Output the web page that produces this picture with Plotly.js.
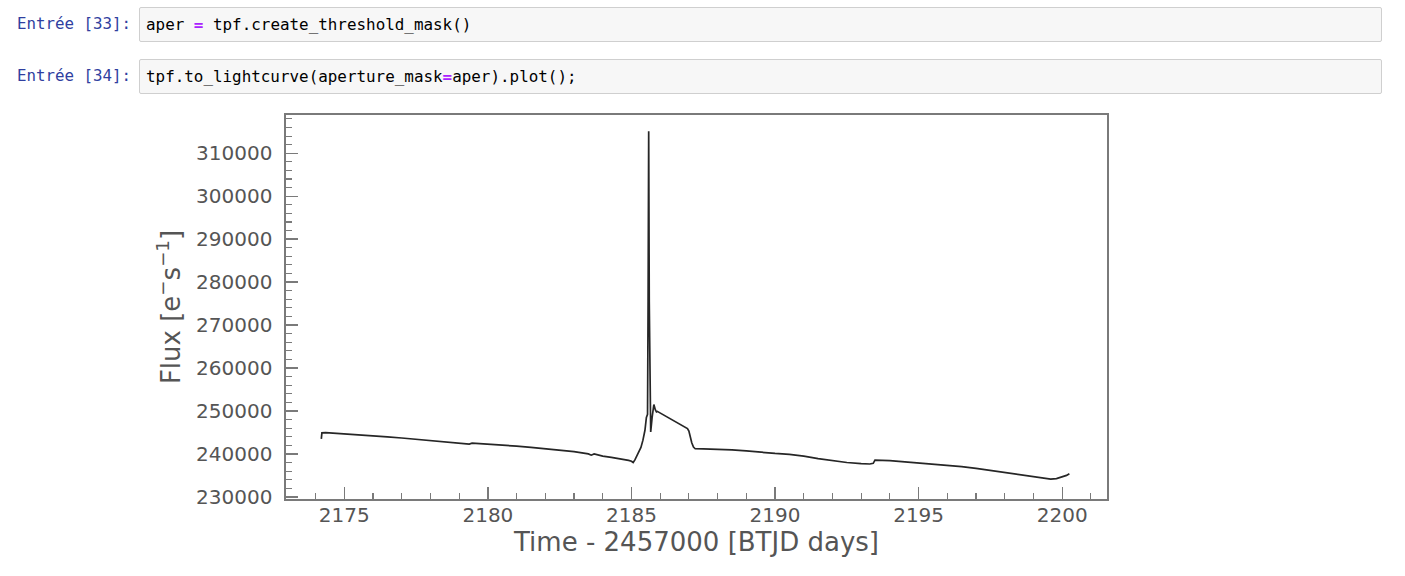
<!DOCTYPE html>
<html>
<head>
<meta charset="utf-8">
<script src="https://cdn.plot.ly/plotly-3.0.1.min.js"></script>
<style>
  html, body { margin:0; padding:0; background:#fff; width:1405px; height:576px; overflow:hidden; }
  #plot { position:absolute; left:0; top:0; width:1405px; height:576px; }
  .prompt { position:absolute; left:17px; font-family:"DejaVu Sans Mono", monospace; font-size:15.8px; color:#303F9F; line-height:36px; height:36px; z-index:5; }
  .cell { position:absolute; left:139px; width:1243px; height:35px; background:#f7f7f7; border:1px solid #cfcfcf; border-radius:2px; box-sizing:border-box; font-family:"DejaVu Sans Mono", monospace; font-size:15.9px; color:#000; line-height:34px; padding-left:6px; z-index:5; white-space:pre; }
  .op { color:#AA22FF; font-weight:bold; }
</style>
</head>
<body>
<div id="plot"></div>
<div class="prompt" style="top:6px;">Entrée [33]:</div>
<div class="cell" style="top:7px;">aper <span class="op">=</span> tpf.create_threshold_mask()</div>
<div class="prompt" style="top:58px;">Entrée [34]:</div>
<div class="cell" style="top:59px;">tpf.to_lightcurve(aperture_mask<span class="op">=</span>aper).plot();</div>
<script>
// Time values (BTJD days)
var time = [
  2174.20, 2174.22, 2174.35, 2174.60, 2175.00, 2175.50, 2176.00, 2176.50, 2177.00, 2177.50,
  2178.00, 2178.50, 2179.00, 2179.35, 2179.45, 2180.00, 2180.50, 2181.00, 2181.50, 2182.00,
  2182.50, 2183.00, 2183.50, 2183.60, 2183.70, 2184.00, 2184.30, 2184.50, 2184.70, 2184.90,
  2185.00, 2185.06, 2185.12, 2185.20, 2185.28, 2185.33, 2185.40, 2185.47, 2185.52, 2185.56,
  2185.58, 2185.60, 2185.62, 2185.64, 2185.67, 2185.72, 2185.78, 2185.83, 2185.87, 2185.90,
  2186.95, 2187.00, 2187.05, 2187.10, 2187.16, 2187.22, 2187.50, 2188.00, 2188.50, 2189.00,
  2189.50, 2190.00, 2190.50, 2191.00, 2191.50, 2192.00, 2192.50, 2193.00, 2193.30, 2193.42,
  2193.48, 2194.00, 2194.50, 2195.00, 2195.50, 2196.00, 2196.50, 2197.00, 2197.50, 2198.00,
  2198.50, 2199.00, 2199.30, 2199.60, 2199.80, 2200.00, 2200.15, 2200.25
];
// Flux values (e-/s)
var flux = [
  243500, 244900, 244950, 244850, 244700, 244500, 244250, 243950, 243700, 243400,
  243150, 242900, 242650, 242300, 242500, 242300, 242050, 241800, 241500, 241200,
  240900, 240550, 240000, 239700, 240000, 239500, 239200, 239000, 238700, 238500,
  238300, 238000, 238600, 239600, 240600, 241500, 243200, 245500, 248500, 249200,
  275800, 315100, 275500, 250000, 245100, 248500, 251500, 250300, 249800, 249900,
  245900, 245300, 243800, 242600, 241600, 241200, 241150, 241100, 240950, 240700,
  240350, 240100, 239900, 239500, 238900, 238400, 238000, 237750, 237650, 237800,
  238550, 238450, 238200, 237950, 237650, 237350, 237050, 236650, 236200, 235750,
  235300, 234800, 234450, 234150, 234250, 234600, 235000, 235400
];
var yTicks = [230000, 240000, 250000, 260000, 270000, 280000, 290000, 300000, 310000];
var xTicks = [2175, 2180, 2185, 2190, 2195, 2200];

var axisColor = '#7a7a7a';
var labelColor = '#555555';

var trace = {
  x: time, y: flux, type: 'scatter', mode: 'lines',
  line: { color: '#262626', width: 1.7 },
  hoverinfo: 'skip'
};

var layout = {
  width: 1405, height: 576,
  margin: { l: 286, r: 298, t: 115, b: 77, pad: 0 },
  paper_bgcolor: '#ffffff', plot_bgcolor: '#ffffff',
  showlegend: false,
  font: { family: 'DejaVu Sans, sans-serif', color: labelColor },
  xaxis: {
    range: [2172.97, 2201.56],
    tickmode: 'array', tickvals: xTicks, ticktext: xTicks.map(String),
    ticks: 'inside', ticklen: 12, tickwidth: 1.3, tickcolor: axisColor,
    minor: { dtick: 1, tick0: 2175, ticks: 'inside', ticklen: 6, tickwidth: 1.1, tickcolor: axisColor, showgrid: false },
    showgrid: false, zeroline: false,
    showline: true, linecolor: axisColor, linewidth: 1.6, mirror: true,
    tickfont: { size: 20, color: labelColor, family: 'DejaVu Sans' },
    ticklabelstandoff: -3,
    title: { text: 'Time - 2457000 [BTJD days]', font: { size: 26, color: labelColor, family: 'DejaVu Sans' }, standoff: 2 },
    automargin: false
  },
  yaxis: {
    range: [229500, 318900],
    tickmode: 'array', tickvals: yTicks, ticktext: yTicks.map(String),
    ticks: 'inside', ticklen: 12, tickwidth: 1.3, tickcolor: axisColor,
    minor: { dtick: 2000, tick0: 230000, ticks: 'inside', ticklen: 6, tickwidth: 1.1, tickcolor: axisColor, showgrid: false },
    showgrid: false, zeroline: false,
    showline: true, linecolor: axisColor, linewidth: 1.6, mirror: true,
    tickfont: { size: 20, color: labelColor, family: 'DejaVu Sans' },
    ticklabelstandoff: 8,
    title: { text: 'Flux [e<sup>−</sup>s<sup>−1</sup>]', font: { size: 26, color: labelColor, family: 'DejaVu Sans' }, standoff: 8 },
    automargin: false
  }
};

Plotly.newPlot('plot', [trace], layout, { staticPlot: true, displayModeBar: false });
</script>
</body>
</html>
